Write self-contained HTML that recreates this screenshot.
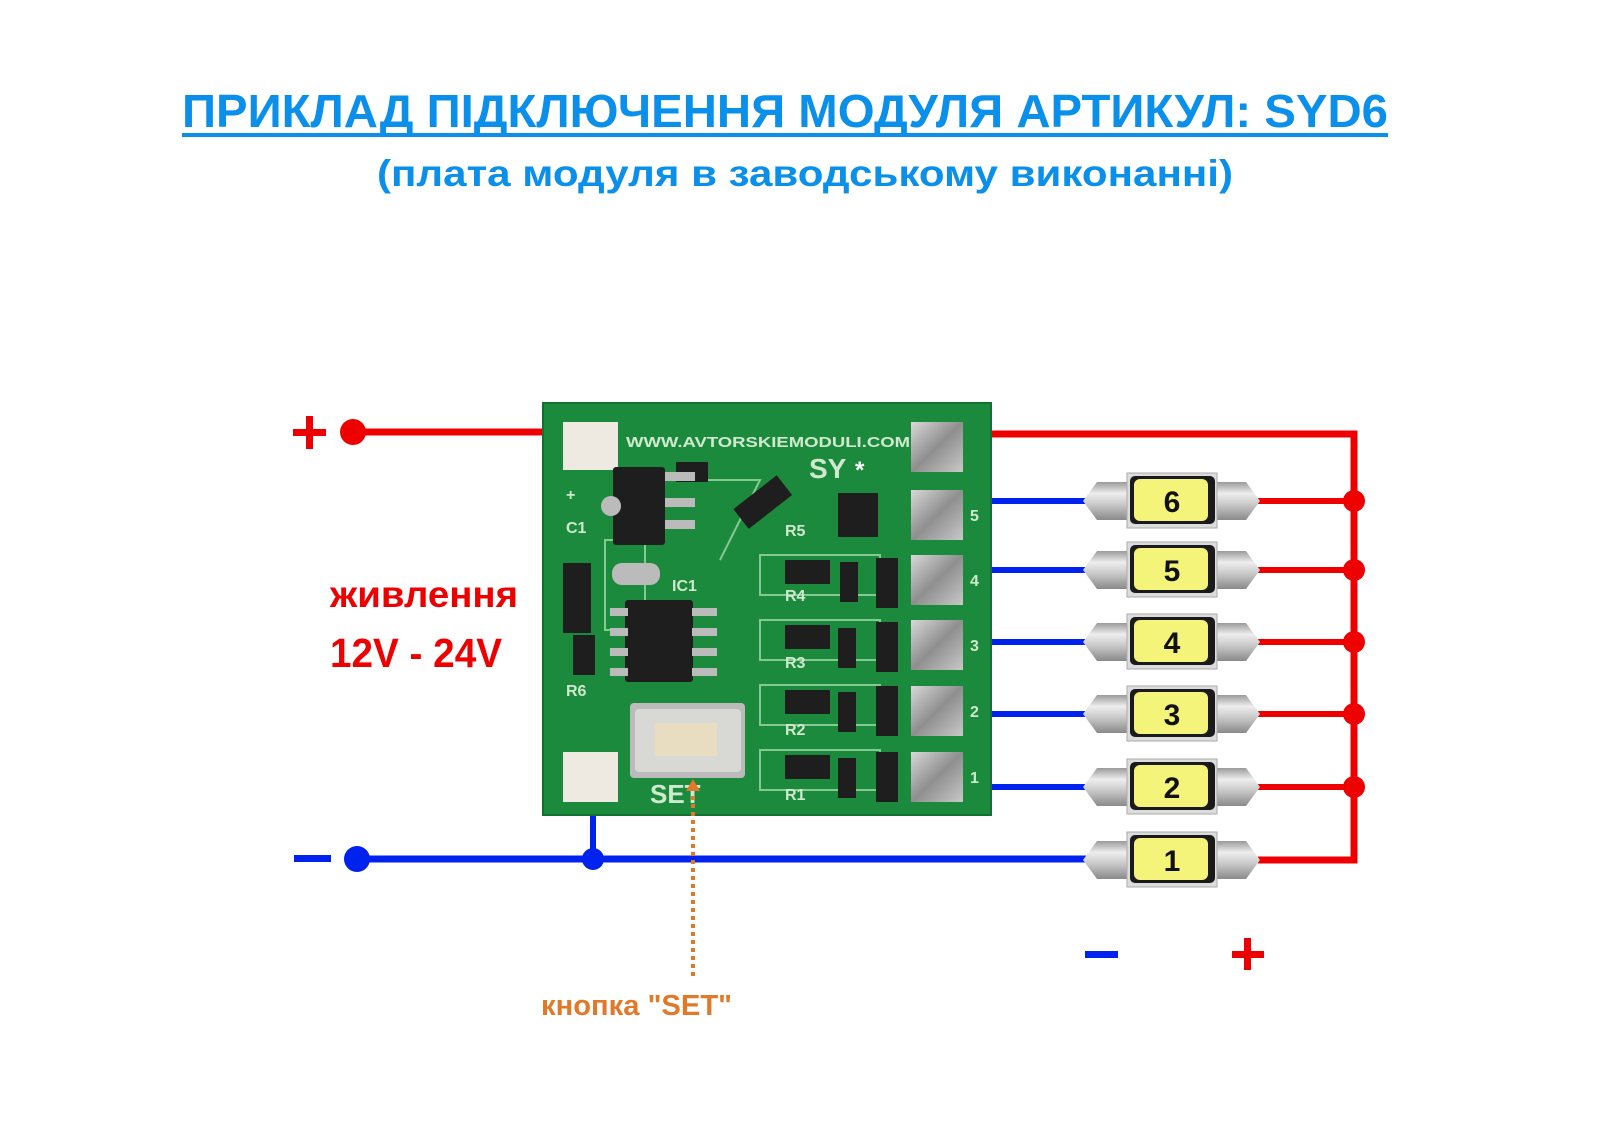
<!DOCTYPE html>
<html><head><meta charset="utf-8"><style>
html,body{margin:0;padding:0;background:#fff;}
svg{display:block;}
text{font-family:"Liberation Sans","DejaVu Sans",sans-serif;font-weight:bold;}
</style></head><body>
<svg width="1600" height="1144" viewBox="0 0 1600 1144" xmlns="http://www.w3.org/2000/svg">
<defs>
<linearGradient id="cap" x1="0" y1="0" x2="0" y2="1">
<stop offset="0" stop-color="#9a9a9a"/><stop offset="0.3" stop-color="#eeeeee"/><stop offset="0.6" stop-color="#c8c8c8"/><stop offset="1" stop-color="#8a8a8a"/></linearGradient>
<linearGradient id="pad" x1="0" y1="0" x2="1" y2="1">
<stop offset="0" stop-color="#d8d8d8"/><stop offset="0.5" stop-color="#8f8f8f"/><stop offset="1" stop-color="#c8c8c8"/></linearGradient>
<g id="led">
<polygon points="1083,0 1097,-19 1127,-19 1127,19 1097,19" fill="url(#cap)"/>
<polygon points="1260,0 1246,-19 1217,-19 1217,19 1246,19" fill="url(#cap)"/>
<rect x="1127" y="-28" width="90" height="55" fill="#dcdcdc" stroke="#aaa" stroke-width="1"/>
<rect x="1130" y="-25" width="85" height="48" rx="5" fill="#1a1a1a"/>
<rect x="1134" y="-22" width="74" height="42" rx="6" fill="#f4f47a"/>
</g>
</defs>

<!-- Title -->
<text x="785" y="127" font-size="46" fill="#0a8fea" text-anchor="middle" textLength="1206" lengthAdjust="spacingAndGlyphs">ПРИКЛАД ПІДКЛЮЧЕННЯ МОДУЛЯ АРТИКУЛ: SYD6</text>
<rect x="182" y="133" width="1206" height="4" fill="#0a8fea"/>
<text x="805" y="186" font-size="37" fill="#0a8fea" text-anchor="middle" textLength="856" lengthAdjust="spacingAndGlyphs">(плата модуля в заводському виконанні)</text>

<!-- red supply wires -->
<line x1="353" y1="432" x2="545" y2="432" stroke="#ee0000" stroke-width="7"/>
<polyline points="990,434 1354,434 1354,860 1258,860" fill="none" stroke="#ee0000" stroke-width="7"/>
<circle cx="353" cy="432" r="13" fill="#ee0000"/>
<rect x="293" y="429" width="33" height="7" fill="#ee0000"/><rect x="306" y="416" width="7" height="33" fill="#ee0000"/>

<!-- blue wires -->
<line x1="357" y1="859" x2="1086" y2="859" stroke="#0022ee" stroke-width="7"/>
<line x1="593" y1="812" x2="593" y2="859" stroke="#0022ee" stroke-width="6"/>
<circle cx="357" cy="859" r="13" fill="#0022ee"/>
<circle cx="593" cy="859" r="11" fill="#0022ee"/>
<rect x="294" y="855" width="37" height="7" fill="#0022ee"/>

<!-- LED rows -->
<g stroke-width="6">
<line x1="990" y1="501" x2="1086" y2="501" stroke="#0022ee"/><line x1="1258" y1="501" x2="1354" y2="501" stroke="#ee0000"/>
<line x1="990" y1="570" x2="1086" y2="570" stroke="#0022ee"/><line x1="1258" y1="570" x2="1354" y2="570" stroke="#ee0000"/>
<line x1="990" y1="642" x2="1086" y2="642" stroke="#0022ee"/><line x1="1258" y1="642" x2="1354" y2="642" stroke="#ee0000"/>
<line x1="990" y1="714" x2="1086" y2="714" stroke="#0022ee"/><line x1="1258" y1="714" x2="1354" y2="714" stroke="#ee0000"/>
<line x1="990" y1="787" x2="1086" y2="787" stroke="#0022ee"/><line x1="1258" y1="787" x2="1354" y2="787" stroke="#ee0000"/>
</g>
<g fill="#ee0000">
<circle cx="1354" cy="501" r="11"/><circle cx="1354" cy="570" r="11"/><circle cx="1354" cy="642" r="11"/><circle cx="1354" cy="714" r="11"/><circle cx="1354" cy="787" r="11"/>
</g>
<use href="#led" transform="translate(0,501)"/>
<use href="#led" transform="translate(0,570)"/>
<use href="#led" transform="translate(0,642)"/>
<use href="#led" transform="translate(0,714)"/>
<use href="#led" transform="translate(0,787)"/>
<use href="#led" transform="translate(0,860)"/>
<g font-size="30" fill="#111" text-anchor="middle">
<text x="1172" y="512">6</text><text x="1172" y="581">5</text><text x="1172" y="653">4</text>
<text x="1172" y="725">3</text><text x="1172" y="798">2</text><text x="1172" y="871">1</text>
</g>
<rect x="1085" y="951" width="33" height="7" fill="#0022ee"/>
<rect x="1232" y="951" width="32" height="7" fill="#ee0000"/><rect x="1244" y="938" width="7" height="32" fill="#ee0000"/>

<!-- left labels -->
<text x="330" y="607" font-size="37" fill="#ee0000" textLength="188" lengthAdjust="spacingAndGlyphs">живлення</text>
<text x="330" y="667" font-size="41" fill="#ee0000" textLength="172" lengthAdjust="spacingAndGlyphs">12V - 24V</text>

<!-- PCB -->
<rect x="543" y="403" width="448" height="412" fill="#1c8a3c"/>
<rect x="543" y="403" width="448" height="412" fill="none" stroke="#127030" stroke-width="2"/>
<g stroke="#9fd8a8" stroke-width="2" fill="none" opacity="0.8">
<path d="M700,480 L760,480 L720,560"/>
<rect x="760" y="555" width="120" height="40"/><rect x="760" y="620" width="120" height="40"/>
<rect x="760" y="685" width="120" height="40"/><rect x="760" y="750" width="120" height="40"/>
<rect x="605" y="540" width="40" height="90"/>
</g>
<text x="626" y="447" font-size="15" fill="#cfe9cf" font-family="Liberation Mono,monospace" textLength="284" lengthAdjust="spacingAndGlyphs">WWW.AVTORSKIEMODULI.COM</text>
<rect x="563" y="422" width="55" height="48" fill="#eeeae2"/>
<rect x="563" y="752" width="55" height="50" fill="#eeeae2"/>
<rect x="911" y="422" width="52" height="50" fill="url(#pad)"/>
<text x="809" y="478" font-size="28" fill="#cfe9cf" font-weight="normal">SY</text>
<text x="855" y="478" font-size="24" fill="#ffffff">*</text>
<g fill="url(#pad)">
<rect x="911" y="490" width="52" height="50"/><rect x="911" y="555" width="52" height="50"/>
<rect x="911" y="620" width="52" height="50"/><rect x="911" y="686" width="52" height="50"/>
<rect x="911" y="752" width="52" height="50"/>
</g>
<g font-size="16" fill="#cfe9cf" font-weight="normal">
<text x="970" y="521">5</text><text x="970" y="586">4</text><text x="970" y="651">3</text><text x="970" y="717">2</text><text x="970" y="783">1</text>
<text x="566" y="500">+</text><text x="566" y="533">C1</text><text x="672" y="591">IC1</text>
<text x="785" y="536">R5</text><text x="785" y="601">R4</text><text x="785" y="668">R3</text><text x="785" y="735">R2</text><text x="785" y="800">R1</text>
<text x="566" y="696">R6</text><text x="650" y="803" font-size="26">SET</text>
</g>
<!-- components -->
<g fill="#1e1e1e">
<rect x="613" y="467" width="52" height="78" rx="3"/>
<rect x="676" y="462" width="32" height="20"/>
<rect x="563" y="563" width="28" height="70"/>
<rect x="625" y="600" width="68" height="82" rx="3"/>
<rect x="838" y="493" width="40" height="44"/><rect x="876" y="558" width="22" height="50"/>
<rect x="876" y="622" width="22" height="50"/><rect x="876" y="686" width="22" height="50"/><rect x="876" y="752" width="22" height="50"/>
<rect x="785" y="560" width="45" height="24"/><rect x="785" y="625" width="45" height="24"/>
<rect x="785" y="690" width="45" height="24"/><rect x="785" y="755" width="45" height="24"/>
<rect x="840" y="562" width="18" height="40"/><rect x="838" y="628" width="18" height="40"/>
<rect x="838" y="692" width="18" height="40"/><rect x="838" y="758" width="18" height="40"/>
<rect x="573" y="635" width="22" height="40"/>
</g>
<rect x="735" y="490" width="55" height="25" fill="#1e1e1e" transform="rotate(-38 762 502)"/>
<g fill="#bbbbbb">
<rect x="665" y="472" width="30" height="9"/><rect x="665" y="498" width="30" height="9"/><rect x="665" y="520" width="30" height="9"/>
<circle cx="611" cy="506" r="10"/>
<rect x="610" y="608" width="18" height="8"/><rect x="610" y="628" width="18" height="8"/><rect x="610" y="648" width="18" height="8"/><rect x="610" y="668" width="18" height="8"/>
<rect x="692" y="608" width="25" height="8"/><rect x="692" y="628" width="25" height="8"/><rect x="692" y="648" width="25" height="8"/><rect x="692" y="668" width="25" height="8"/>
<rect x="612" y="563" width="48" height="22" rx="10"/>
<rect x="630" y="703" width="115" height="75" rx="4"/>
</g>
<rect x="635" y="709" width="106" height="63" rx="4" fill="#d8d8d4"/>
<rect x="655" y="723" width="62" height="33" fill="#e8ddc0"/>
<!-- orange marker -->
<line x1="693" y1="796" x2="693" y2="980" stroke="#e07a2a" stroke-width="4" stroke-dasharray="4,4"/>
<polygon points="686,791 700,791 693,779" fill="#e07a2a"/>
<text x="541" y="1015" font-size="29" fill="#e07a2a" textLength="191" lengthAdjust="spacingAndGlyphs">кнопка "SET"</text>
</svg>
</body></html>
